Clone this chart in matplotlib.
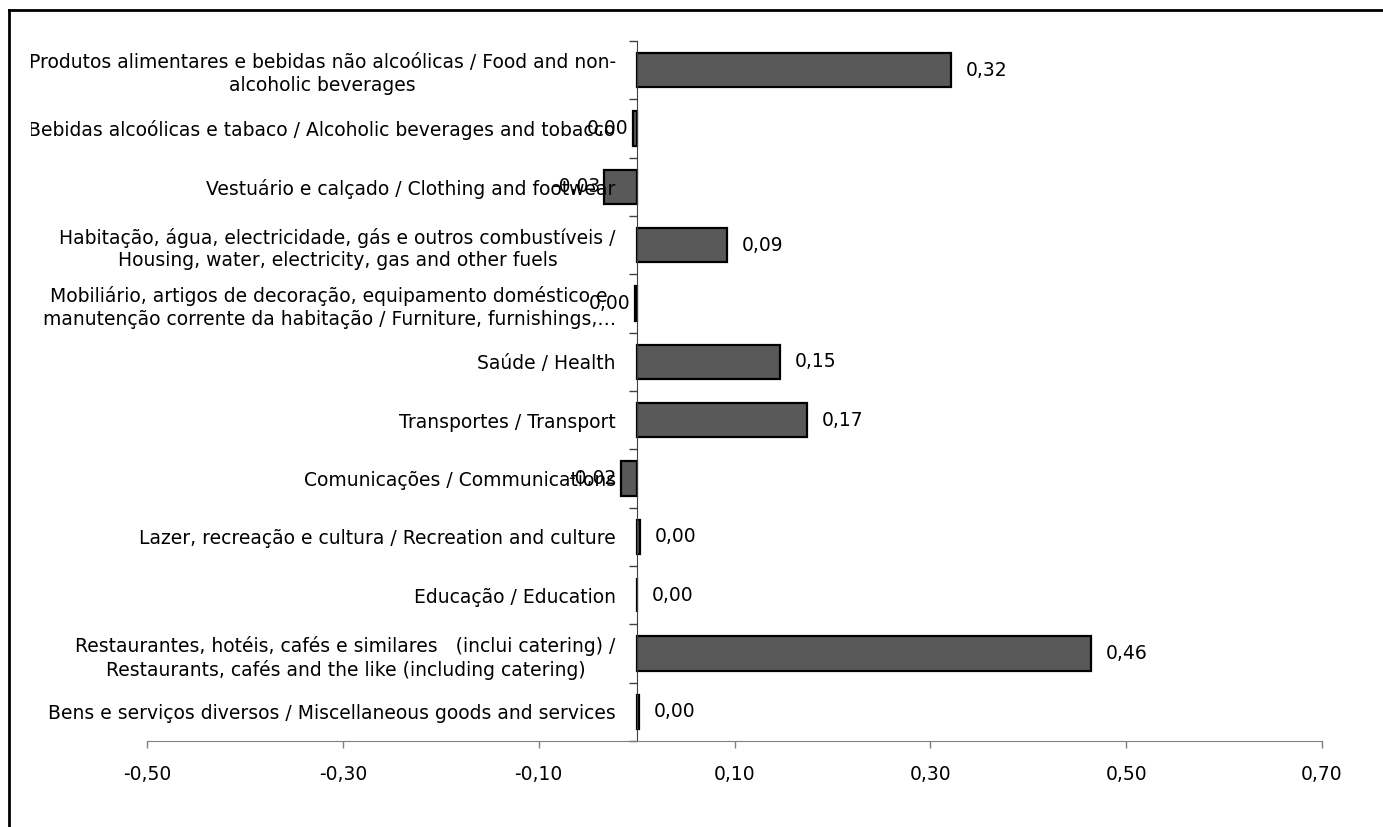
import matplotlib.pyplot as plt
import numpy as np
from matplotlib.lines import Line2D
from matplotlib.transforms import Bbox, TransformedBbox

# categorias (de cima para baixo)
categorias = [
    "Produtos alimentares e bebidas não alcoólicas / Food and non-\nalcoholic beverages",
    "Bebidas alcoólicas e tabaco / Alcoholic beverages and tobacco",
    "Vestuário e calçado / Clothing and footwear",
    "Habitação, água, electricidade, gás e outros combustíveis /\nHousing, water, electricity, gas and other fuels",
    "Mobiliário, artigos de decoração, equipamento doméstico e\nmanutenção corrente da habitação / Furniture, furnishings,…",
    "Saúde / Health",
    "Transportes / Transport",
    "Comunicações / Communications",
    "Lazer, recreação e cultura / Recreation and culture",
    "Educação / Education",
    "Restaurantes, hotéis, cafés e similares   (inclui catering) /\nRestaurants, cafés and the like (including catering)",
    "Bens e serviços diversos / Miscellaneous goods and services",
]
valores = [0.321, -0.004, -0.033, 0.092, -0.002, 0.146, 0.174, -0.016, 0.003, 0.0, 0.464, 0.002]
xticks = [-0.5, -0.3, -0.1, 0.1, 0.3, 0.5, 0.7]

FONTE = 'DejaVu Sans'
TAM = 13.5

fig = plt.figure(figsize=(13.83, 8.27), dpi=100)
ax = fig.add_axes([147/1383, 1 - 741/827, (1322-147)/1383, (741-41)/827])

y = np.arange(len(categorias))
ax.barh(y, valores, height=0.59, color='#595959', edgecolor='black', linewidth=1.6)

ax.set_xlim(-0.5, 0.7)
ax.set_ylim(len(categorias) - 0.5, -0.5)

# rótulos dos valores
for yi, v in zip(y, valores):
    txt = f"{abs(v) if round(v, 2) == 0 else v:.2f}".replace('.', ',')
    if v < 0:
        ax.annotate(txt, (v, yi), xytext=(-3, 0), textcoords='offset points',
                    ha='right', va='center', fontsize=TAM, family=FONTE)
    else:
        ax.annotate(txt, (v, yi), xytext=(11, 0), textcoords='offset points',
                    ha='left', va='center', fontsize=TAM, family=FONTE)

# eixos
for s in ['top', 'right']:
    ax.spines[s].set_visible(False)
ax.spines['left'].set_position(('data', 0))
ax.spines['left'].set_color('#404040')
ax.spines['bottom'].set_color('#808080')

ax.set_xticks(xticks)
ax.set_xticklabels([f"{t:.2f}".replace('.', ',') for t in xticks], fontsize=TAM, family=FONTE)
ax.tick_params(axis='x', direction='out', length=5, width=1, color='#808080', pad=12)

ax.set_yticks(np.arange(len(categorias) + 1) - 0.5)
ax.set_yticklabels([])
ax.set_yticks(y, minor=True)
ax.set_yticklabels(categorias, minor=True, fontsize=TAM, family=FONTE,
                   multialignment='center', linespacing=1.25)
ax.tick_params(axis='y', which='major', direction='out', length=6, width=1, color='#404040')
ax.tick_params(axis='y', which='minor', length=0, pad=15)

# corta o texto à esquerda, como no original
clip = TransformedBbox(Bbox([[31/1383, 0], [1, 1]]), fig.transFigure)
for lab in ax.get_yticklabels(minor=True):
    lab.set_clip_on(True)
    lab.set_clip_box(clip)

# moldura
fig.add_artist(Line2D([9/1383, 9/1383], [0, 1 - 10/827], transform=fig.transFigure, color='black', lw=2))
fig.add_artist(Line2D([9/1383, 1], [1 - 10/827, 1 - 10/827], transform=fig.transFigure, color='black', lw=2))

fig.savefig('out.png', dpi=100)
